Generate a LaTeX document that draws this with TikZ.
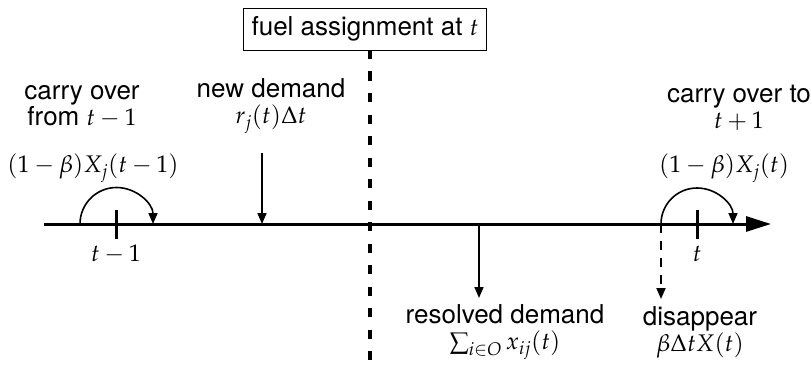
\documentclass[tikz,border=0pt]{standalone}
\usepackage{mathpazo}
\usepackage[no-math]{fontspec}
\setmainfont{TeX Gyre Heros}
\usetikzlibrary{arrows.meta}
\newcommand\mth[1]{{\fontsize{24}{26}\selectfont$#1$}}
\tikzset{
  lbl/.style={align=center, inner sep=0pt, font=\fontsize{26}{26}\selectfont},
  boxlbl/.style={draw, line width=0.9pt, inner xsep=8pt, minimum height=42pt, font=\fontsize{26}{26}\selectfont},
  axisline/.style={line width=3pt, -{Triangle[length=25pt,width=15pt]}},
  tickline/.style={line width=3pt},
  arr/.style={line width=1.6pt, -{Triangle[length=11pt,width=9pt]}},
  dasharr/.style={line width=1.8pt, dash pattern=on 9pt off 8pt, -{Triangle[length=11pt,width=9pt]}},
  vdash/.style={line width=3.5pt, dash pattern=on 9pt off 12.5pt},
}
\begin{document}
\begin{tikzpicture}[x=1pt,y=-1pt]
\useasboundingbox (0,0) rectangle (811,369);
% axis
\coordinate (axL) at (44,224);
\coordinate (axR) at (771,224);
\draw[axisline] (axL) -- (axR);
% ticks
\coordinate (t1a) at (116,210); \coordinate (t1b) at (116,239);
\coordinate (t2a) at (697,210); \coordinate (t2b) at (697,239);
\draw[tickline] (t1a) -- (t1b);
\draw[tickline] (t2a) -- (t2b);
\node[lbl] (tm1) at (116,254) {\mth{t-1}};
\node[lbl] (tt) at (697,254) {\mth{t}};
% box and dashed line
\node[boxlbl] (box) at (365,29) {fuel assignment at \mth{t}};
\coordinate (vtop) at (370,50);
\coordinate (vbot) at (370,372);
\draw[vdash] (vtop) -- (vbot);
% left carry over
\node[lbl] (co1) at (82,107) {carry over\\from \mth{t-1}};
\node[lbl] (co1m) at (93,168) {\mth{(1-\beta)X_j(t-1)}};
\coordinate (arc1s) at (80,224);
\draw[arr] (arc1s) arc[start angle=180, end angle=360, radius=36.5];
% new demand
\node[lbl] (nd) at (271,106) {new demand\\\mth{r_j(t)\Delta t}};
\coordinate (ndTop) at (262,153);
\coordinate (ndAx) at (262,224);
\draw[arr] (ndTop) -- (ndAx);
% resolved demand
\coordinate (rdAx) at (479,224);
\coordinate (rdEnd) at (479,298);
\draw[arr] (rdAx) -- (rdEnd);
\node[lbl] (rd) at (505,332) {resolved demand\\\mth{\sum_{i\in O} x_{ij}(t)}};
% right carry over
\node[lbl] (co2) at (739,108) {carry over to\\\mth{t+1}};
\node[lbl] (co2m) at (724,168) {\mth{(1-\beta)X_j(t)}};
\coordinate (arc2s) at (661,224);
\draw[arr] (arc2s) arc[start angle=180, end angle=360, radius=36];
% disappear
\coordinate (dsEnd) at (661,299);
\draw[dasharr] (arc2s) -- (dsEnd);
\node[lbl] (ds) at (700,332) {disappear\\\mth{\beta\Delta t X(t)}};
\end{tikzpicture}
\end{document}
